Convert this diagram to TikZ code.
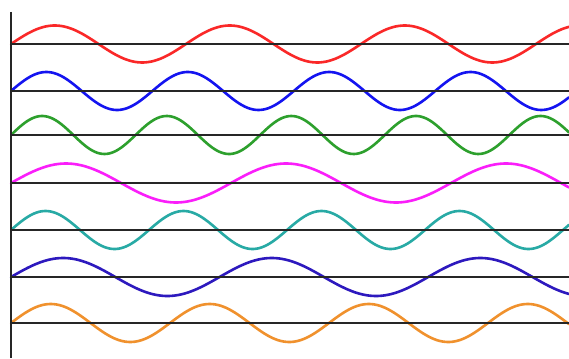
\documentclass[tikz,border=0pt]{standalone}
\usetikzlibrary{calc}
\definecolor{wred}{RGB}{250,40,40}
\definecolor{wblue}{RGB}{20,20,240}
\definecolor{wgreen}{RGB}{45,160,45}
\definecolor{wmag}{RGB}{250,30,250}
\definecolor{wteal}{RGB}{40,170,165}
\definecolor{windigo}{RGB}{45,25,190}
\definecolor{worange}{RGB}{240,145,45}
\tikzset{
  wave/.style={line width=2.6pt, line cap=round},
  baseline/.style={line width=2.2pt, black!85},
}
\newcommand{\wavecurve}[4]{% color, axis y, half-period, amplitude
  \draw[wave, #1, domain=11:569, samples=240, smooth] plot (\x, {#2 - #4*sin((\x-11)/(#3)*180)});
}
\begin{document}
\begin{tikzpicture}[x=1pt, y=-1pt]
\useasboundingbox (0,0) rectangle (569,358);
\fill[white] (0,0) rectangle (569,358);
% waves
\wavecurve{wred}{44}{87.5}{18.5}
\wavecurve{wblue}{91}{70.7}{19}
\wavecurve{wgreen}{135}{62.3}{19}
\wavecurve{wmag}{183}{110}{19.5}
\wavecurve{wteal}{230}{69}{19}
\wavecurve{windigo}{277}{104.3}{19}
\wavecurve{worange}{323}{79.5}{19}
% baselines
\foreach \n/\yy in {a/44, b/91, c/135, d/183, e/230, f/277, g/323} {
  \coordinate (\n L) at (11,\yy);
  \coordinate (\n R) at (569,\yy);
  \draw[baseline] (\n L) -- (\n R);
}
% vertical axis
\coordinate (top) at (11,12);
\coordinate (bot) at (11,358);
\draw[baseline] (top) -- (bot);
\end{tikzpicture}
\end{document}
